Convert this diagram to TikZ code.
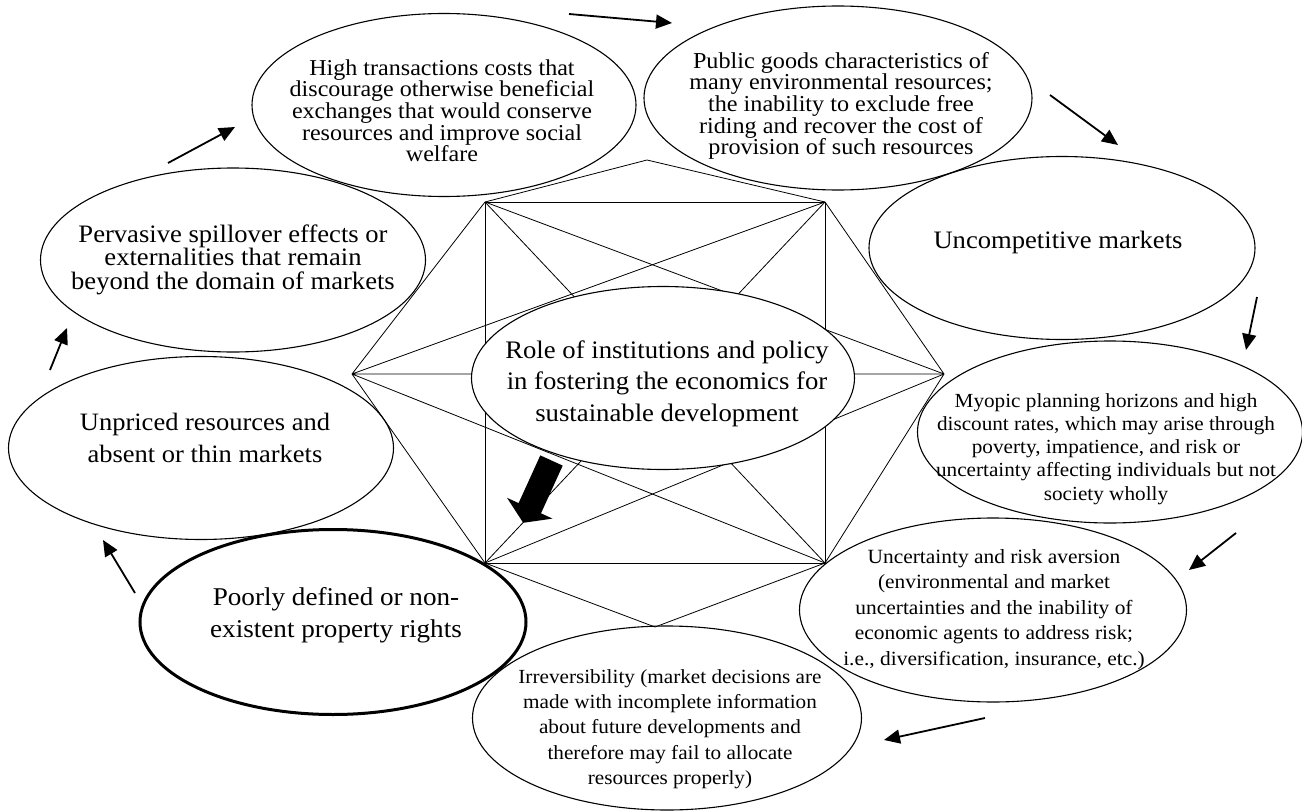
\documentclass[tikz,border=0pt]{standalone}
\usepackage{fontspec}
\setmainfont{Liberation Serif}[FakeStretch=1.06]
\usetikzlibrary{shapes.geometric,arrows.meta}
% centred lines whose baseline is that of the first line
\newcommand\stack[1]{\vtop{\lineskiplimit=-100pt\lineskip=0pt\halign{\hfil##\hfil\cr#1\crcr}}}

\begin{document}
\begin{tikzpicture}[x=1pt,y=-1pt,
  bubble/.style={ellipse, draw, line width=1.1pt, inner sep=0pt, outer sep=0pt,
                 minimum width=386pt, minimum height=184pt},
  txt/.style={inner sep=0pt, anchor=base},
  web/.style={line width=0.8pt},
  flow/.style={line width=1.8pt, -{Triangle[length=16pt,width=14pt]}},
]
\useasboundingbox[fill=white] (0,0) rectangle (1302,811);

% ---- the web of lines behind the central ellipse
\coordinate (T)  at (647,160);
\coordinate (TL) at (485,202);
\coordinate (TR) at (825,202);
\coordinate (L)  at (352,374);
\coordinate (R)  at (944,374);
\coordinate (BL) at (485,563);
\coordinate (BR) at (825,563);
\coordinate (B)  at (655,627);

\draw[web] (TL) -- (TR) -- (BR) -- (BL) -- cycle;
\draw[web] (TL) -- (T) -- (TR);
\draw[web] (BL) -- (B) -- (BR);
\draw[web] (TL) -- (BR) (TR) -- (BL);
\draw[web] (L) -- (TL) (L) -- (TR) (L) -- (BL) (L) -- (BR) (L) -- (R);
\draw[web] (R) -- (TR) (R) -- (TL) (R) -- (BL) (R) -- (BR);

% ---- outer ellipses
\node[bubble, minimum width=384pt, minimum height=183pt] (ht) at (444,105) {};
\node[bubble, minimum width=388pt] (pg) at (838,98) {};
\node[bubble, minimum height=183pt] (uc) at (1062,248) {};
\node[bubble, minimum width=385pt, minimum height=182pt] (my) at (1110,432) {};
\node[bubble, minimum width=387pt] (ur) at (993,610) {};
\node[bubble, minimum width=389pt] (ir) at (667,718) {};
\node[bubble, line width=3pt, minimum height=185pt] (pd) at (333,622) {};
\node[bubble, minimum width=385pt, minimum height=183pt] (up) at (201,448) {};
\node[bubble, minimum width=385pt] (pv) at (233,260) {};

% ---- central ellipse
\node[bubble, fill=white, minimum width=383pt, minimum height=183pt] (ct) at (663,378) {};

% ---- texts
\node[txt, font=\fontsize{22.7}{21.7}\selectfont] (htT) at (442,75)
  {\stack{High transactions costs that\cr discourage otherwise beneficial\cr exchanges that would conserve\cr resources and improve social\cr welfare}};
\node[txt, font=\fontsize{22.8}{21.7}\selectfont] (pgT) at (841,68)
  {\stack{Public goods characteristics of\cr many environmental resources;\cr the inability to exclude free\cr riding and recover the cost of\cr provision of such resources}};
\node[txt, font=\fontsize{25.1}{30}\selectfont] (ucT) at (1058,248)
  {\stack{Uncompetitive markets}};
\node[txt, font=\fontsize{20}{23.3}\selectfont] (myT) at (1106,407)
  {\stack{Myopic planning horizons and high\cr discount rates, which may arise through\cr poverty, impatience, and risk or\cr uncertainty affecting individuals but not\cr society wholly}};
\node[txt, font=\fontsize{20.2}{25.5}\selectfont] (urT) at (994,563)
  {\stack{Uncertainty and risk aversion\cr (environmental and market\cr uncertainties and the inability of\cr economic agents to address risk;\cr i.e., diversification, insurance, etc.)}};
\node[txt, font=\fontsize{20}{25.4}\selectfont] (irT) at (670,683)
  {\stack{Irreversibility (market decisions are\cr made with incomplete information\cr about future developments and\cr therefore may fail to allocate\cr resources properly)}};
\node[txt, font=\fontsize{25.6}{32}\selectfont] (pdT) at (336,605)
  {\stack{Poorly defined or non-\cr existent property rights}};
\node[txt, font=\fontsize{25}{32}\selectfont] (upT) at (205,430)
  {\stack{Unpriced resources and\cr absent or thin markets}};
\node[txt, font=\fontsize{25.1}{23.7}\selectfont] (pvT) at (233,242)
  {\stack{Pervasive spillover effects or\cr externalities that remain\cr beyond the domain of markets}};
\node[txt, font=\fontsize{25.2}{31.7}\selectfont] (ctT) at (667,358)
  {\stack{Role of institutions and policy\cr in fostering the economics for\cr sustainable development}};

% ---- bold arrow out of the central ellipse
\fill (540.3,455.4) -- (562.7,465.6) -- (541,513.3) -- (552.5,518.6)
      -- (523.2,522.8) -- (507,497.8) -- (518.6,503.1) -- cycle;

% ---- arrows of the cycle
\coordinate (a1s) at (569,14);   \coordinate (a1e) at (672,23);
\coordinate (a2s) at (1050,95);  \coordinate (a2e) at (1118,145);
\coordinate (a3s) at (1257,297); \coordinate (a3e) at (1246,350);
\coordinate (a4s) at (1236,533); \coordinate (a4e) at (1189,570);
\coordinate (a5s) at (985,718);  \coordinate (a5e) at (884,740);
\coordinate (a6s) at (135,593);  \coordinate (a6e) at (103,540);
\coordinate (a7s) at (50,370);   \coordinate (a7e) at (67,328);
\coordinate (a8s) at (168,163);  \coordinate (a8e) at (235,127);
\foreach \i in {1,...,8} \draw[flow] (a\i s) -- (a\i e);
\end{tikzpicture}
\end{document}
